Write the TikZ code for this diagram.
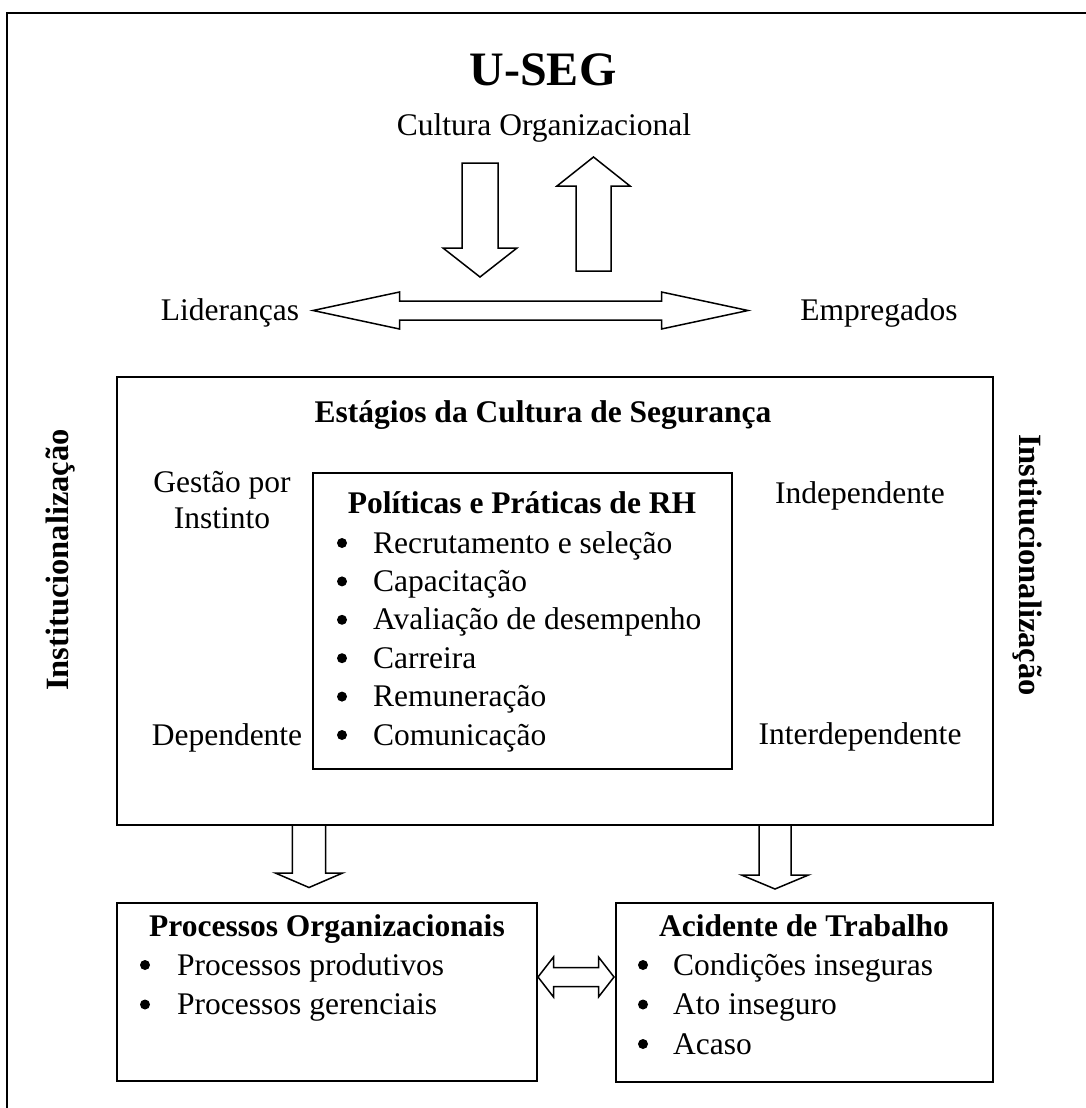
\documentclass[tikz,border=0pt]{standalone}
\usepackage{fontspec}
\setmainfont{Liberation Serif}
\usetikzlibrary{positioning}

\tikzset{
	box/.style={draw, line width=1.6pt, inner sep=0pt},
	blk/.style={draw, line width=1.5pt, line join=miter},
	txt/.style={font=\fontsize{31.5}{38}\selectfont, inner sep=0pt, anchor=base},
	bold/.style={txt, font=\fontsize{31.5}{38}\selectfont\bfseries},
	item/.style={txt, anchor=base west},
	dot/.style={circle, fill, inner sep=0pt, minimum size=10pt},
}

\begin{document}
\begin{tikzpicture}[x=1pt,y=-1pt]
\useasboundingbox (0,0) rectangle (1086,1108);
\clip (0,0) rectangle (1086,1108);

% outer frame, cut off at right and bottom
\draw[line width=2.2pt] (7,13) rectangle (1100,1120);

\node[txt, font=\fontsize{48}{56}\selectfont\bfseries] (useg) at (543,85) {U-SEG};
\node[txt] (cultura) at (544,135) {Cultura Organizacional};
\node[txt] (lid) at (230,320) {Lideranças};
\node[txt] (emp) at (879,320) {Empregados};

% boxes
\node[box, minimum width=876, minimum height=448] (est) at (555,601) {};
\node[box, minimum width=419, minimum height=296] (rh) at (522.5,621) {};
\node[box, minimum width=420, minimum height=178] (proc) at (327,992) {};
\node[box, minimum width=377, minimum height=179] (acid) at (804.5,992.5) {};

\node[bold] (esttit) at (543,422) {Estágios da Cultura de Segurança};
\node[txt] (gestao) at (222,492) {Gestão por};
\node[txt] (instinto) at (222,528) {Instinto};
\node[txt] (indep) at (860,503) {Independente};
\node[txt] (dep) at (227,745) {Dependente};
\node[txt] (inter) at (860,744) {Interdependente};

\node[bold, font=\fontsize{32.5}{38}\selectfont\bfseries, rotate=90, anchor=center] (instl) at (61,560) {Institucionalização};
\node[bold, font=\fontsize{32.5}{38}\selectfont\bfseries, rotate=-90, anchor=center] (instr) at (1027,565) {Institucionalização};

% lists
\node[bold] (rhtit) at (522,513) {Políticas e Práticas de RH};
\foreach \t [count=\i from 0] in {Recrutamento e seleção, Capacitação, Avaliação de desempenho, Carreira, Remuneração, Comunicação}{
	\node[dot] (rhb\i) at (342,543+38.4*\i) {};
	\node[item] (rht\i) at (373,553+38.4*\i) {\t};
}

\node[bold] (proctit) at (327,936) {Processos Organizacionais};
\foreach \t [count=\i from 0] in {Processos produtivos, Processos gerenciais}{
	\node[dot] (procb\i) at (145,965+39.5*\i) {};
	\node[item] (proct\i) at (177,975+39.5*\i) {\t};
}

\node[bold] (acidtit) at (804,936) {Acidente de Trabalho};
\foreach \t [count=\i from 0] in {Condições inseguras, Ato inseguro, Acaso}{
	\node[dot] (acidb\i) at (643,965+39.5*\i) {};
	\node[item] (acidt\i) at (673,975+39.5*\i) {\t};
}

% block arrows, vertical
\foreach \x/\ya/\yb/\yc/\s/\h in {480/163/248/277/18/37, 593.5/271/186/157/17.5/36.5, 309/825/873/887.5/16.6/33.7, 775/825/875/889/16/33.5}
	\draw[blk] (\x-\s,\ya) -- (\x-\s,\yb) -- (\x-\h,\yb) -- (\x,\yc) -- (\x+\h,\yb) -- (\x+\s,\yb) -- (\x+\s,\ya) -- cycle;

% block arrows, double headed
\foreach \xa/\xb/\y/\hl/\s/\h in {313/748/310.5/86.5/9.5/18.5, 538/614/977/15.5/9.5/20}
	\draw[blk] (\xa,\y) -- (\xa+\hl,\y-\h) -- (\xa+\hl,\y-\s) -- (\xb-\hl,\y-\s) -- (\xb-\hl,\y-\h) -- (\xb,\y)
		-- (\xb-\hl,\y+\h) -- (\xb-\hl,\y+\s) -- (\xa+\hl,\y+\s) -- (\xa+\hl,\y+\h) -- cycle;

\end{tikzpicture}
\end{document}
